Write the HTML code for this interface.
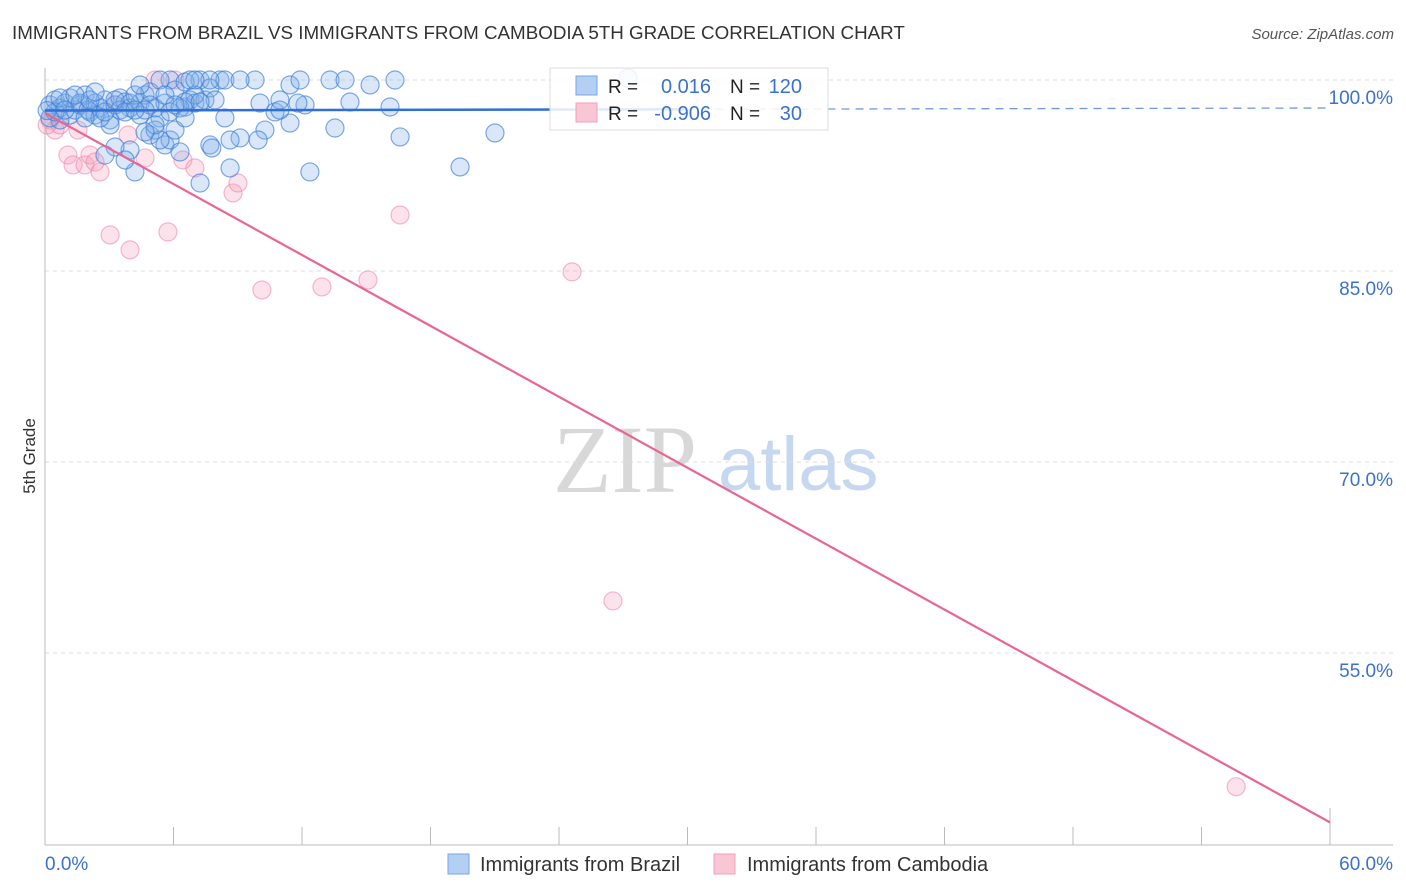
<!DOCTYPE html>
<html><head><meta charset="utf-8"><style>
body{margin:0;background:#fff;font-family:"Liberation Sans",sans-serif}
#wrap{position:relative;width:1406px;height:892px;overflow:hidden}
</style></head><body>
<div id="wrap">
<svg id="chart" width="1406" height="892" xmlns="http://www.w3.org/2000/svg">
<text x="12" y="39" font-size="18.8" fill="#333">IMMIGRANTS FROM BRAZIL VS IMMIGRANTS FROM CAMBODIA 5TH GRADE CORRELATION CHART</text>
<text x="1394" y="39" font-size="15" fill="#555" font-style="italic" text-anchor="end">Source: ZipAtlas.com</text>
<text x="35" y="456" font-size="17" fill="#333" text-anchor="middle" transform="rotate(-90 35 456)">5th Grade</text>
<g>
<text x="553" y="492" font-size="96" font-family="Liberation Serif,serif" fill="#d8d8d8">ZIP</text>
<text x="718" y="490" font-size="76" fill="#c5d8f0">atlas</text>
</g>
<g id="grid"></g>
<g id="axes"></g>
<g id="pts"></g>
<g id="trend"></g>
<g>
<rect x="550" y="68" width="278" height="62" fill="#fff" fill-opacity="0.85" stroke="#ddd"/>
<rect x="576" y="76" width="21" height="19" fill="#b3cff3" stroke="#7aa6e0"/>
<rect x="576" y="103" width="21" height="19" fill="#f9c6d5" stroke="#efa0b8"/>
<text x="608" y="93" font-size="19" fill="#222">R =</text>
<text x="711" y="93" font-size="20" fill="#3a72cc" text-anchor="end">0.016</text>
<text x="730" y="93" font-size="19" fill="#222">N =</text>
<text x="802" y="93" font-size="20" fill="#3a72cc" text-anchor="end">120</text>
<text x="608" y="120" font-size="19" fill="#222">R =</text>
<text x="711" y="120" font-size="20" fill="#3a72cc" text-anchor="end">-0.906</text>
<text x="730" y="120" font-size="19" fill="#222">N =</text>
<text x="802" y="120" font-size="20" fill="#3a72cc" text-anchor="end">30</text>
</g>
<g>
<rect x="448" y="854" width="21" height="20" fill="#b3cff3" stroke="#7aa6e0"/>
<text x="480" y="871" font-size="20" fill="#333">Immigrants from Brazil</text>
<rect x="714" y="854" width="21" height="20" fill="#f9c6d5" stroke="#efa0b8"/>
<text x="747" y="871" font-size="20" fill="#333">Immigrants from Cambodia</text>
</g>
</svg>
</div>
<script>
const brazilX=[0.23,0.47,0.70,0.93,1.17,1.40,1.63,1.87,2.10,2.34,2.57,2.80,3.04,3.27,3.50,3.74,3.97,4.44,4.67,4.90,5.14,5.37,5.60,5.84,6.07,6.54,6.77,7.00,7.24,7.47,7.70,7.94,8.17,8.40,8.64,9.11,9.81,10.27,10.74,10.97,11.44,11.91,12.14,12.37,13.31,13.54,14.01,14.24,15.18,16.11,16.34,16.58,19.38,21.01,27.22,0.70,1.17,2.34,3.04,3.97,4.20,4.90,5.14,5.60,5.84,6.30,7.24,7.70,8.64,9.95,11.44,11.81,3.27,2.80,3.74,6.54,7.00,3.97,4.44,5.37,1.63,2.01,4.90,5.84,6.30,2.10,3.50,2.57,6.07,5.14,6.54,7.24,8.40,9.11,10.04,10.97,7.70,6.77,4.20,4.67,5.37,5.60,0.23,0.47,0.70,0.93,1.40,1.87,2.34,2.80,3.27,3.74,4.20,4.44,7.79,4.67,6.07,6.54,7.00,0.1];
const brazilY=[98.04,98.43,97.80,98.19,97.25,97.64,98.04,98.82,97.49,98.19,97.80,98.43,96.86,98.04,98.59,98.27,97.80,98.19,98.82,99.06,97.80,97.02,98.19,100,99.21,97.88,98.43,98.19,100,98.43,99.37,98.43,100,97.02,93.09,95.45,100,96.07,97.49,98.43,99.61,100,98.04,92.78,100,96.23,100,98.27,99.61,97.88,100,95.53,93.17,95.84,100.16,96.86,98.59,97.25,96.47,94.50,92.78,95.68,96.07,94.90,95.29,94.35,91.91,94.90,95.29,95.29,96.62,98.19,94.74,94.11,93.72,99.84,98.82,98.19,97.25,95.29,98.19,97.64,98.04,97.49,97.80,98.43,97.64,97.02,96.07,96.47,98.27,98.27,100,100,98.19,97.64,100,100,98.82,97.64,100,98.82,97.02,97.49,98.59,97.64,98.82,97.02,99.06,97.49,98.43,97.49,97.64,99.61,94.66,95.92,98.04,97.02,100,97.6];
const cambodiaX=[0.23,0.47,0.70,1.07,1.31,1.54,1.87,2.10,2.34,2.57,3.04,3.27,3.88,3.97,4.67,5.14,5.74,6.07,6.44,7.00,8.78,9.01,10.13,12.93,15.08,16.58,24.61,26.52,55.62,0.1];
const cambodiaY=[96.86,96.07,96.47,94.11,93.33,96.07,93.33,94.11,93.56,92.78,87.83,98.04,95.68,86.66,93.88,100,88.07,100,93.72,93.09,91.13,91.91,83.51,83.75,84.30,89.40,84.93,59.09,44.5,96.47];
const yTicks=[100,85,70,55];
const yTickLabels=["100.0%","85.0%","70.0%","55.0%"];
const xTicks=[0,6,12,18,24,30,36,42,48,54,60];
const xEndLabels=["0.0%","60.0%"];
const brazilTrend=[97.6,97.8];
const cambodiaTrend=[97.4,41.7];
const blueSolidEnd=30;

const X0=45,X1=1330,Y100=80,PX_PER_PCT=191/15;
function sx(v){return X0+(v/60)*(X1-X0);}
function sy(v){return Y100+(100-v)*PX_PER_PCT;}
const NS="http://www.w3.org/2000/svg";
function mk(tag,attrs,parent){const e=document.createElementNS(NS,tag);for(const k in attrs)e.setAttribute(k,attrs[k]);parent.appendChild(e);return e;}

const grid=document.getElementById('grid');
yTicks.forEach((t,i)=>{
  const l=mk('line',{x1:X0,x2:1393,y1:sy(t),y2:sy(t),stroke:'#ddd','stroke-dasharray':'4,4'},grid);
  
  
  const tx=mk('text',{x:1393,y:sy(t)+24,'font-size':19,fill:'#3a72cc','text-anchor':'end'},grid);
  tx.textContent=yTickLabels[i];
  
  
});
const axes=document.getElementById('axes');
let a=mk('line',{x1:X0,x2:X0,y1:68,y2:845,stroke:'#bbb'},axes);


a=mk('line',{x1:X0,x2:1393,y1:845,y2:845,stroke:'#bbb'},axes);


xTicks.forEach((t,i)=>{
  const top=(i===xTicks.length-1)?808:827;
  const tk=mk('line',{x1:sx(t),x2:sx(t),y1:top,y2:845,stroke:'#bbb'},axes);
  
  
});
let lt=mk('text',{x:45,y:870,'font-size':19,fill:'#3a72cc'},axes);
lt.textContent=xEndLabels[0];


lt=mk('text',{x:1393,y:870,'font-size':19,fill:'#3a72cc','text-anchor':'end'},axes);
lt.textContent=xEndLabels[1];



const pts=document.getElementById('pts');
cambodiaX.forEach((x,i)=>{
  const c=mk('circle',{cx:sx(x),cy:sy(cambodiaY[i]),r:9,fill:'rgba(244,160,188,0.3)',stroke:'rgba(236,130,165,0.55)','stroke-width':1.2},pts);
  
  
});
brazilX.forEach((x,i)=>{
  const c=mk('circle',{cx:sx(x),cy:sy(brazilY[i]),r:9,fill:'rgba(130,175,232,0.3)',stroke:'rgba(60,125,215,0.65)','stroke-width':1.2},pts);
  
  
});
const tr=document.getElementById('trend');
function by(x){return brazilTrend[0]+(brazilTrend[1]-brazilTrend[0])*x/60;}
let t=mk('line',{x1:sx(0),y1:sy(by(0)),x2:sx(blueSolidEnd),y2:sy(by(blueSolidEnd)),stroke:'#2f6fd6','stroke-width':2.5},tr);


t=mk('line',{x1:sx(blueSolidEnd),y1:sy(by(blueSolidEnd)),x2:sx(60),y2:sy(by(60)),stroke:'#2f6fd6','stroke-width':1.3,'stroke-dasharray':'8,6','stroke-opacity':0.7},tr);


t=mk('line',{x1:sx(0),y1:sy(cambodiaTrend[0]),x2:sx(60),y2:sy(cambodiaTrend[1]),stroke:'#e8668f','stroke-width':2.2},tr);


</script>
</body></html>
